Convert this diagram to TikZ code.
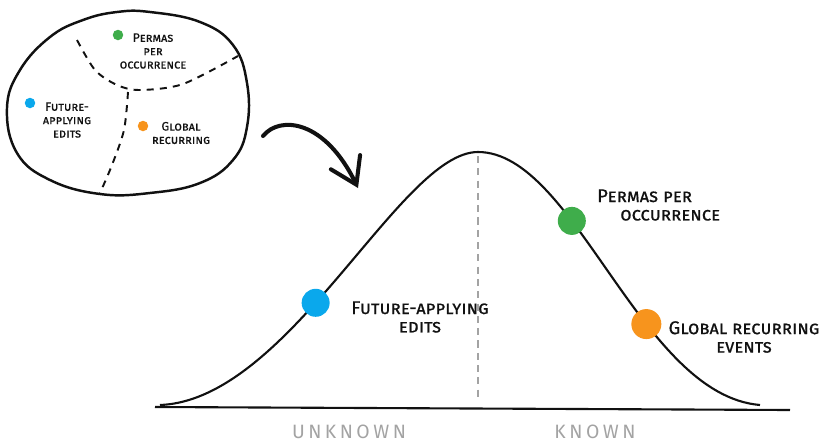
\documentclass[tikz,border=0pt]{standalone}
\usepackage{fontspec}
\setmainfont{Fira Sans}
\newfontfamily\sketchfont{Fira Sans}[Letters=SmallCaps, FakeBold=0.6]
\usetikzlibrary{arrows.meta}
\definecolor{sketchink}{HTML}{111111}
\definecolor{sketchblue}{HTML}{0AA8EC}
\definecolor{sketchgreen}{HTML}{3FAD4B}
\definecolor{sketchorange}{HTML}{F7941D}
\definecolor{sketchgray}{HTML}{A3A3A3}

\begin{document}
\begin{tikzpicture}[x=0.02cm, y=-0.02cm,
                    every node/.style={sketchink, font=\sketchfont},
                    smalldot/.style={circle, inner sep=0pt, minimum size=0.21cm},
                    bigdot/.style={circle, inner sep=0pt, minimum size=0.56cm},
                    smalltext/.style={align=center, font=\sketchfont\fontsize{7}{7.6}\selectfont},
                    bigtext/.style={align=center, font=\sketchfont\fontsize{10.5}{10.5}\selectfont},
                    axistext/.style={sketchgray, font=\fontsize{11}{11}\selectfont\addfontfeature{LetterSpace=18}}]

\useasboundingbox (0,0) rectangle (823,444);

%% ==== 左上: 三類的分區圖 ===============================================
\begin{scope}

  %% 外框
  \draw[sketchink, line width=1.4pt] plot[smooth cycle, tension=0.7] coordinates
    {(7,108) (20,70) (50,37) (83,20) (117,12) (150,12) (200,22) (233,45)
     (247,83) (247,127) (233,160) (200,183) (150,193) (100,194) (50,180) (17,153)};

  %% 分區的虛線
  \draw[sketchink, line width=1.1pt, dash pattern=on 4pt off 3.5pt]
    plot[smooth] coordinates {(77,40) (95,70) (117,85) (140,90) (183,84) (238,56)};
  \draw[sketchink, line width=1.1pt, dash pattern=on 4pt off 3.5pt]
    plot[smooth] coordinates {(128,92) (124,130) (112,165) (100,193)};

  %% 三個色點與說明
  \node[smalldot, fill=sketchgreen]  (greenspot)  at (118,35)  {};
  \node[smalldot, fill=sketchblue]   (bluespot)   at (30,103)  {};
  \node[smalldot, fill=sketchorange] (orangespot) at (143,126) {};

  \node[smalltext] (greenlabel)  at (153,51)  {Permas\\per\\occurrence};
  \node[smalltext] (bluelabel)   at (67,120)  {Future-\\applying\\edits};
  \node[smalltext] (orangelabel) at (181,133) {Global\\recurring};

\end{scope}

%% ==== 彎箭頭 ==========================================================
\coordinate (bendfrom) at (263,136);
\coordinate (bendto)   at (358,188);
\draw[sketchink, line width=2.3pt, line cap=round,
      -{Straight Barb[length=5mm, width=6.5mm, line cap=round]}]
  (bendfrom) .. controls (280,115) and (325,120) .. (bendto);

%% ==== 右下: 鐘形曲線 ==================================================
\begin{scope}

  %% 橫軸
  \coordinate (axisleft)  at (155,407);
  \coordinate (axisright) at (790,410);
  \draw[sketchink, line width=1.2pt] (axisleft) -- (axisright);

  %% 中線
  \coordinate (peakfoot) at (478,401);
  \draw[sketchgray, line width=1.2pt, dash pattern=on 4pt off 3pt] (478,156) -- (peakfoot);

  %% 曲線與落在曲線上的三個色點
  \draw[sketchink, line width=1.2pt]
    (160,405) .. controls (290,400) and (400,152) .. (478,152)
      node[pos=0.43, bigdot, fill=sketchblue] (bluedot) {}
    .. controls (575,152) and (640,395) .. (760,405)
      node[pos=0.35, bigdot, fill=sketchgreen] (greendot) {}
      node[pos=0.635, bigdot, fill=sketchorange, minimum size=0.6cm] (orangedot) {};

  %% 說明文字
  \node[bigtext] (bluetext)   at (420,317) {Future-applying\\edits};
  \node[bigtext, align=left, anchor=west] (greentext) at (591,205)
    {Permas per\\\hspace*{1.25em}occurrence};
  \node[bigtext] (orangetext) at (744,337) {Global recurring\\events};

  %% 軸下的兩端
  \node[axistext] (unknownlabel) at (349,432) {UNKNOWN};
  \node[axistext] (knownlabel)   at (595,432) {KNOWN};

\end{scope}

\end{tikzpicture}
\end{document}
